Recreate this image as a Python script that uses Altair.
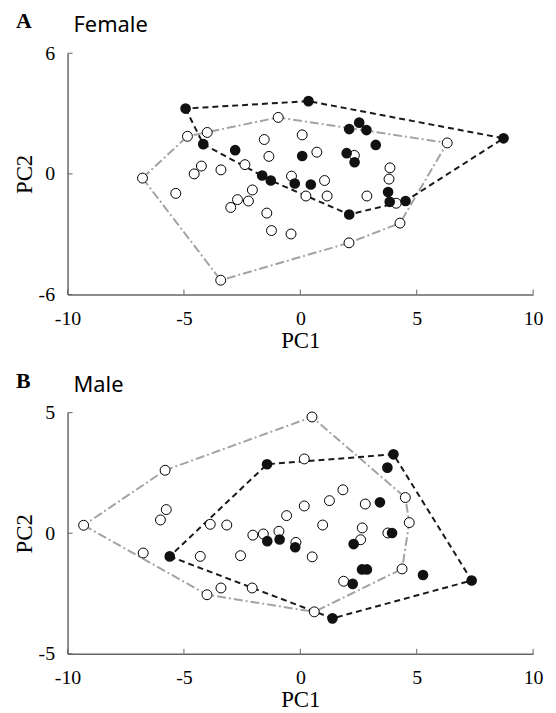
import altair as alt
import pandas as pd

# ---------------- Panel A: Female ----------------
fa_open_x = [-6.78, -4.85, -4.00, -0.95, 0.08, -1.55, -1.35, -2.38, -4.25, -4.56, -3.41,
             -5.35, -2.06, -2.70, -2.23, -2.99, -1.44, -0.38, 0.24, -1.24, -0.40, -3.42,
             0.71, 2.32, 6.31, 3.85, 3.81, 1.04, 1.15, 2.86, 4.12, 4.28, 2.09]
fa_open_y = [-0.21, 1.87, 2.06, 2.81, 1.94, 1.71, 0.87, 0.46, 0.39, 0.00, 0.20,
             -0.97, -0.80, -1.28, -1.35, -1.67, -1.95, -0.11, -1.10, -2.82, -2.99, -5.29,
             1.08, 0.92, 1.54, 0.30, -0.26, -0.33, -1.10, -1.10, -1.46, -2.45, -3.43]
fa_fill_x = [-4.93, -4.17, -2.80, -1.64, -1.27, -0.24, 0.35, 0.08, 0.45, 2.53,
             2.10, 2.84, 3.24, 8.73, 1.99, 2.33, 3.77, 3.84, 4.52, 2.10]
fa_fill_y = [3.25, 1.48, 1.18, -0.08, -0.33, -0.48, 3.62, 0.89, -0.53, 2.55,
             2.23, 2.18, 1.44, 1.77, 1.03, 0.58, -0.90, -1.39, -1.35, -2.02]

# ---------------- Panel B: Male ----------------
mb_open_x = [-9.31, -5.81, -5.76, -6.01, -6.75, -3.87, -3.16, -4.30, -2.57, -4.01, -3.41,
             -2.07, -2.04, -1.59, -0.92, -0.19, -0.59, 0.17, 0.17, 0.50, 0.51, 0.60,
             1.83, 1.25, 2.79, 4.51, 4.68, 0.96, 2.66, 2.59, 3.76, 4.37, 1.86]
mb_open_y = [0.33, 2.61, 0.98, 0.55, -0.82, 0.37, 0.34, -0.96, -0.93, -2.55, -2.27,
             -2.27, -0.08, -0.03, 0.08, -0.38, 0.73, 1.13, 3.08, 4.82, -0.98, -3.26,
             1.80, 1.35, 1.21, 1.48, 0.44, 0.34, 0.22, -0.27, 0.01, -1.48, -1.99]
mb_fill_x = [-5.61, -1.43, -1.42, -0.89, -0.22, 4.00, 3.74, 3.42, 3.94, 2.29,
             2.65, 2.86, 2.25, 5.27, 7.36, 1.38]
mb_fill_y = [-0.96, 2.86, -0.33, -0.26, -0.58, 3.27, 2.72, 1.28, 0.01, -0.45,
             -1.50, -1.50, -2.10, -1.73, -1.96, -3.53]

x_ticks = [-10, -5, 0, 5, 10]
ya_ticks = [-6, 0, 6]
yb_ticks = [-5, 0, 5]

W, H = 469, 243


def convex_hull(xs, ys):
    pts = sorted(set(zip(xs, ys)))

    def cross(o, a, b):
        return (a[0] - o[0]) * (b[1] - o[1]) - (a[1] - o[1]) * (b[0] - o[0])

    lower, upper = [], []
    for p in pts:
        while len(lower) >= 2 and cross(lower[-2], lower[-1], p) <= 0:
            lower.pop()
        lower.append(p)
    for p in reversed(pts):
        while len(upper) >= 2 and cross(upper[-2], upper[-1], p) <= 0:
            upper.pop()
        upper.append(p)
    h = lower[:-1] + upper[:-1]
    h.append(h[0])
    return pd.DataFrame({"x": [p[0] for p in h], "y": [p[1] for p in h],
                         "o": list(range(len(h)))})


def panel(ox, oy, fx, fy, ylim, yticks, letter, name):
    xs = alt.Scale(domain=[-10, 10], nice=False, zero=False)
    ys = alt.Scale(domain=[-ylim, ylim], nice=False, zero=False)
    xax = alt.Axis(values=x_ticks, title="PC1", tickSize=0, labelPadding=14,
                   titlePadding=1, labelFlush=False, labelOverlap=False,
                   labelExpr="'' + datum.value")
    yax = alt.Axis(values=yticks, title="PC2", tickSize=0, labelPadding=13,
                   titlePadding=2, labelFlush=False, labelOverlap=False,
                   labelExpr="'' + datum.value")
    X = alt.X("x:Q", scale=xs, axis=xax)
    Y = alt.Y("y:Q", scale=ys, axis=yax)

    open_df = pd.DataFrame({"x": ox, "y": oy})
    fill_df = pd.DataFrame({"x": fx, "y": fy})

    gray = alt.Chart(convex_hull(ox, oy)).mark_line(
        color="#a3a3a3", strokeWidth=2, strokeDash=[9, 3, 2, 3]
    ).encode(x=X, y=Y, order="o:Q")
    black = alt.Chart(convex_hull(fx, fy)).mark_line(
        color="#1a1a1a", strokeWidth=2, strokeDash=[6, 4]
    ).encode(x=X, y=Y, order="o:Q")
    opens = alt.Chart(open_df).mark_point(
        shape="circle", filled=True, fill="white", stroke="black", strokeWidth=1,
        size=100, opacity=1
    ).encode(x=X, y=Y)
    fills = alt.Chart(fill_df).mark_point(
        shape="circle", filled=True, color="#111111", size=115, opacity=1
    ).encode(x=X, y=Y)

    xt = alt.Chart(pd.DataFrame({"x": x_ticks})).mark_rule(
        color="#666666", strokeWidth=1
    ).encode(x=X, y=alt.value(H), y2=alt.value(H - 5))
    yt = alt.Chart(pd.DataFrame({"y": yticks})).mark_rule(
        color="#666666", strokeWidth=1
    ).encode(y=Y, x=alt.value(0), x2=alt.value(5))

    lab = alt.Chart(pd.DataFrame({"t": [letter]})).mark_text(
        font="Liberation Serif", fontWeight="bold", fontSize=22,
        align="left", baseline="alphabetic", color="black"
    ).encode(text="t:N", x=alt.value(-52), y=alt.value(-25))
    ttl = alt.Chart(pd.DataFrame({"t": [name]})).mark_text(
        font="Noto Sans", fontSize=22, align="left", baseline="alphabetic",
        color="black"
    ).encode(text="t:N", x=alt.value(6), y=alt.value(-21))

    return alt.layer(gray, black, opens, fills, xt, yt, lab, ttl).properties(
        width=W, height=H
    )


pa = panel(fa_open_x, fa_open_y, fa_fill_x, fa_fill_y, 6, ya_ticks, "A", "Female")
pb = panel(mb_open_x, mb_open_y, mb_fill_x, mb_fill_y, 5, yb_ticks, "B", "Male")

chart = alt.vconcat(pa, pb, spacing=18).properties(
    padding={"left": 5, "top": 0, "right": 5, "bottom": 0}
).configure_view(stroke=None).configure_axis(
    grid=False, domainColor="#666666", domainWidth=1.5,
    labelFont="Liberation Serif", labelFontSize=20, labelColor="black",
    titleFont="Liberation Serif", titleFontSize=23, titleFontWeight="normal",
    titleColor="black"
)

chart.save("out.html", embed_options={"renderer": "svg", "actions": False})
